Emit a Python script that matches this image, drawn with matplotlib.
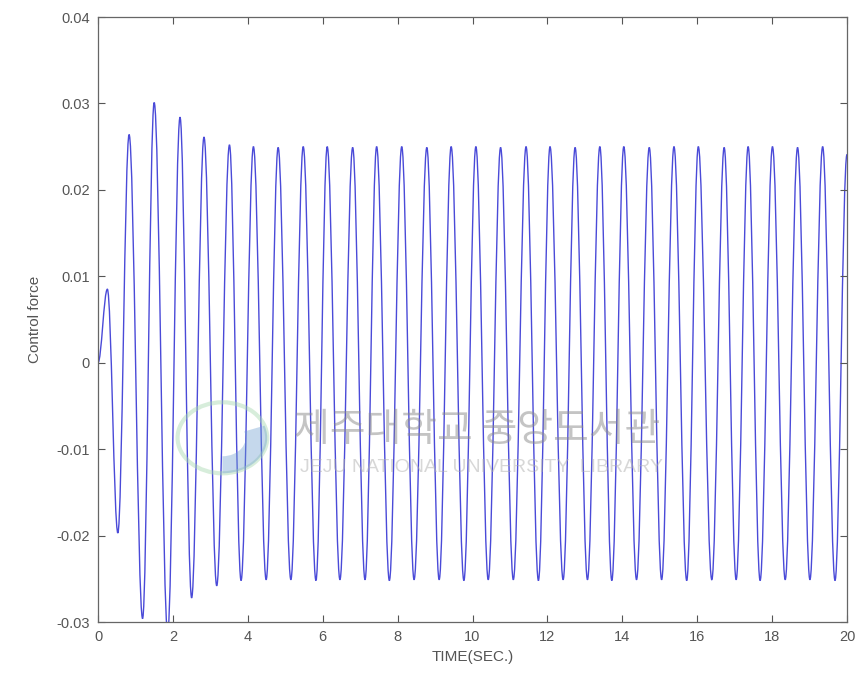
import numpy as np
import matplotlib
matplotlib.use("Agg")
import matplotlib.pyplot as plt
from matplotlib.path import Path
from matplotlib.patches import PathPatch, Circle, Wedge

# Extremes of the control force signal
start_time = [0.0]
start_force = [0.0]

peak_times = [0.25, 0.83, 1.50, 2.19, 2.83, 3.51, 4.15, 4.81, 5.48, 6.12,
              6.80, 7.44, 8.11, 8.78, 9.43, 10.09, 10.75, 11.43, 12.07, 12.74,
              13.40, 14.04, 14.72, 15.38, 16.03, 16.72, 17.36, 18.01, 18.68, 19.35]
peak_force = [0.0085, 0.0264, 0.0301, 0.0284, 0.0261, 0.0252, 0.0250, 0.0249, 0.0250, 0.0250,
              0.0249, 0.0250, 0.0250, 0.0249, 0.0250, 0.0250, 0.0249, 0.0250, 0.0250, 0.0249,
              0.0250, 0.0250, 0.0249, 0.0250, 0.0250, 0.0249, 0.0250, 0.0250, 0.0249, 0.0250]

trough_times = [0.53, 1.19, 1.86, 2.50, 3.17, 3.82, 4.49, 5.15, 5.82, 6.46,
                7.13, 7.78, 8.44, 9.11, 9.77, 10.42, 11.09, 11.76, 12.42, 13.07,
                13.72, 14.38, 15.05, 15.72, 16.39, 17.04, 17.68, 18.35, 19.01, 19.68]
trough_force = [-0.0197, -0.0296, -0.0312, -0.0272, -0.0258, -0.0252, -0.0251, -0.0251, -0.0252, -0.0251,
                -0.0251, -0.0252, -0.0251, -0.0251, -0.0252, -0.0251, -0.0251, -0.0252, -0.0251, -0.0251,
                -0.0252, -0.0251, -0.0251, -0.0252, -0.0251, -0.0251, -0.0252, -0.0251, -0.0251, -0.0252]

end_time = [20.0]
end_force = [0.0241]

x_ticks = [0, 2, 4, 6, 8, 10, 12, 14, 16, 18, 20]
y_ticks = [-0.03, -0.02, -0.01, 0, 0.01, 0.02, 0.03, 0.04]
y_tick_labels = ["-0.03", "-0.02", "-0.01", "0", "0.01", "0.02", "0.03", "0.04"]

# merge all extremes into one time-ordered trace
t = np.array(start_time + peak_times + trough_times + end_time)
f = np.array(start_force + peak_force + trough_force + end_force)
order = np.argsort(t)
t, f = t[order], f[order]

plt.rcParams['font.family'] = ['Liberation Sans', 'Noto Sans CJK KR', 'DejaVu Sans']

fig = plt.figure(figsize=(8.62, 6.83), dpi=100)
ax = fig.add_axes([0.1137, 0.0893, 0.8689, 0.8858])

# smooth swing between consecutive extremes (flat tangent at each extreme)
verts = [(t[0], f[0])]
codes = [Path.MOVETO]
for i in range(len(t) - 1):
    dt = t[i + 1] - t[i]
    verts += [(t[i] + 0.364 * dt, f[i]), (t[i + 1] - 0.364 * dt, f[i + 1]), (t[i + 1], f[i + 1])]
    codes += [Path.CURVE4] * 3
ax.add_patch(PathPatch(Path(verts, codes), facecolor="none",
                       edgecolor="#4a4ad8", linewidth=1.0))

ax.set_xlim(0, 20)
ax.set_ylim(-0.03, 0.04)
ax.set_xticks(x_ticks)
ax.set_xticklabels([str(v) for v in x_ticks])
ax.set_yticks(y_ticks)
ax.set_yticklabels(y_tick_labels)

grey = "#555555"
ax.tick_params(direction="in", top=True, right=True, length=5, width=0.8,
               colors=grey, labelsize=10.5, pad=6)
for s in ax.spines.values():
    s.set_color("#666666")
    s.set_linewidth(0.9)

ax.set_xlabel("TIME(SEC.)", color=grey, fontsize=11, labelpad=4)
ax.set_ylabel("Control force", color=grey, fontsize=11, labelpad=10)

# faint library watermark
fig.text(0.553, 0.37, "제주대학교 중앙도서관", fontsize=28, color="#8a8a8a",
         alpha=0.5, ha="center", va="center",
         family=['Noto Sans CJK KR', 'DejaVu Sans'])
fig.text(0.558, 0.315, "JEJU NATIONAL UNIVERSITY  LIBRARY", fontsize=14, color="#b0b0b0",
         alpha=0.5, ha="center", va="center")
fig.patches.append(Circle((0.258, 0.359), 0.052, transform=fig.transFigure,
                          facecolor="none", edgecolor="#a8d8b0", linewidth=3, alpha=0.45))
fig.patches.append(Wedge((0.258, 0.359), 0.052, 270, 20, width=0.025,
                         transform=fig.transFigure, facecolor="#6f9fd0", alpha=0.4,
                         edgecolor="none"))

fig.savefig("out.png", dpi=100)
